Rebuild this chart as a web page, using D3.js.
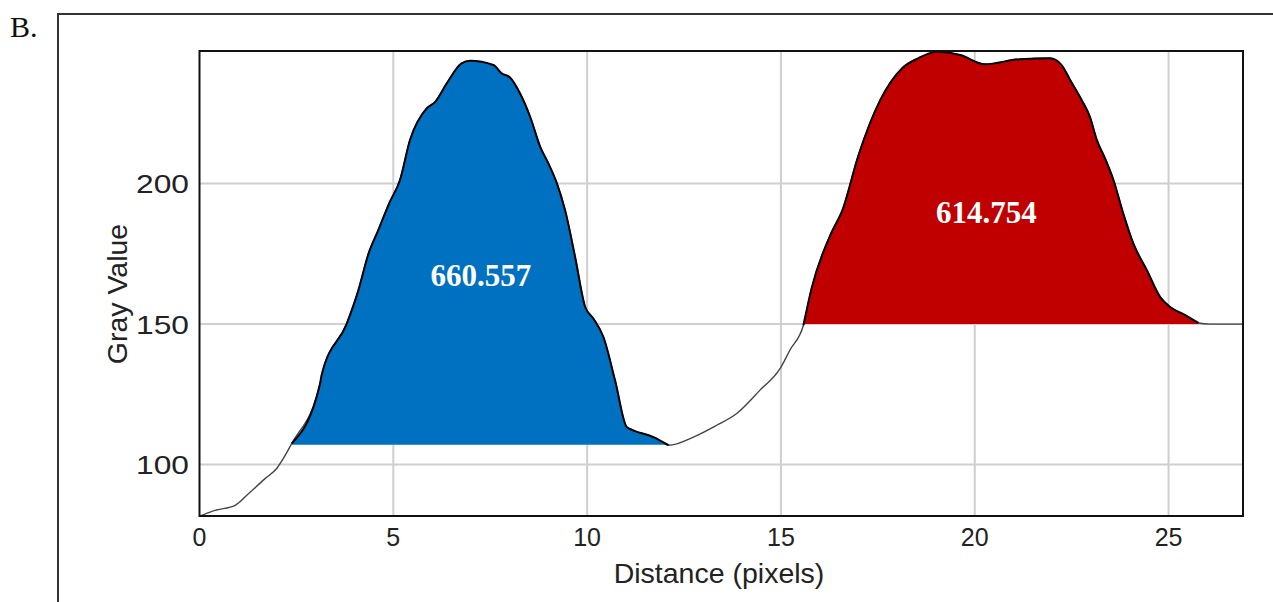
<!DOCTYPE html>
<html>
<head>
<meta charset="utf-8">
<script src="https://cdn.jsdelivr.net/npm/d3@7"></script>
<style>
  body { margin: 0; background: #fff; }
  svg { display: block; }
</style>
</head>
<body>
<svg width="1273" height="602"></svg>
<script>
// line profile values
const distance = [0, 0.40, 0.92, 1.22, 1.69, 1.99, 2.16, 2.38, 3.11, 3.15, 3.80, 4.10, 4.36, 4.61,
  4.91, 5.17, 5.43, 5.86, 6.08, 6.38, 6.76, 6.98, 7.58, 7.80, 8.01, 8.27, 8.53, 8.79, 9.00,
  9.22, 9.43, 9.69, 9.95, 10.16, 10.42, 10.72, 11.02, 11.19, 11.71, 12.10, 12.74, 13.34,
  13.86, 14.46, 14.98, 15.23, 15.58, 15.79, 16.31, 16.57, 17.00, 17.56, 18.12, 18.54, 19.02,
  19.62, 20.26, 21.17, 21.94, 22.24, 22.46, 22.76, 22.97, 23.15, 23.36, 23.58, 23.83, 24.09,
  24.44, 24.78, 25.04, 25.43, 25.77, 26.07, 26.92];
const grayValue = [81.6, 83.7, 85.5, 89.1, 95.0, 98.6, 102.1, 107.5, 128.8, 131.8, 150.2, 162.1,
  175.1, 183.4, 193.5, 201.2, 215.5, 226.8, 229.1, 235.7, 242.8, 243.7, 242.2, 239.2, 237.8,
  232.1, 223.8, 213.1, 207.2, 200.1, 190.6, 173.9, 156.1, 152.0, 145.4, 130.0, 113.4, 112.2,
  109.8, 106.9, 109.8, 114.0, 118.2, 126.5, 134.2, 140.7, 149.6, 162.7, 182.8, 190.0, 210.1,
  229.7, 241.0, 244.6, 246.9, 245.8, 242.5, 244.3, 244.6, 242.2, 236.9, 229.7, 223.8, 215.5,
  209.0, 201.2, 189.4, 178.7, 169.2, 159.7, 156.1, 153.2, 150.4, 150.0, 150.0];

// measured peaks
const peakStart = [2.38, 15.58];
const peakEnd = [12.10, 25.77];
const peakBase = [107.1, 150];
const peakArea = ["660.557", "614.754"];

const xTicks = [0, 5, 10, 15, 20, 25];
const yTicks = [100, 150, 200];

const svg = d3.select("svg");
const plotL = 199.5, plotR = 1243, plotT = 51, plotB = 516;

const x = d3.scaleLinear().domain([0, 26.92]).range([plotL, plotR]);
const y = d3.scaleLinear().domain([81.7, 247.2]).range([plotB, plotT]);

const peakFill = ["#0070c0", "#c00000"];
const labelPos = [[7.26, 163.5], [20.3, 186]];

const points = distance.map((d, i) => ({x: d, y: grayValue[i]}));

// outer panel frame
svg.append("rect")
    .attr("x", 58).attr("y", 14)
    .attr("width", 1300).attr("height", 700)
    .attr("fill", "none").attr("stroke", "#333").attr("stroke-width", 2);

svg.append("text")
    .attr("x", 10).attr("y", 37)
    .attr("font-family", "Liberation Serif, serif")
    .attr("font-size", 30)
    .attr("fill", "#111")
    .text("B.");

svg.append("defs").append("clipPath").attr("id", "plot-clip")
  .append("rect")
    .attr("x", plotL).attr("y", plotT)
    .attr("width", plotR - plotL).attr("height", plotB - plotT);

// grid
const grid = svg.append("g").attr("id", "grid");
grid.selectAll("line.vx")
    .data(xTicks.filter(d => d > 0)).enter()
    .append("line")
        .attr("x1", d => x(d)).attr("x2", d => x(d))
        .attr("y1", plotT).attr("y2", plotB)
        .attr("stroke", "#cfcfcf").attr("stroke-width", 2);
grid.selectAll("line.hy")
    .data(yTicks).enter()
    .append("line")
        .attr("x1", plotL).attr("x2", plotR)
        .attr("y1", d => y(d)).attr("y2", d => y(d))
        .attr("stroke", "#cfcfcf").attr("stroke-width", 2);

const plot = svg.append("g").attr("clip-path", "url(#plot-clip)");

// whole profile as a thin line
const line = d3.line().x(d => x(d.x)).y(d => y(d.y)).curve(d3.curveMonotoneX);
plot.append("path")
    .datum(points)
    .attr("fill", "none")
    .attr("stroke", "#444")
    .attr("stroke-width", 1.4)
    .attr("d", line);

// filled peaks
peakStart.forEach((s, i) => {
    const seg = points.filter(p => p.x >= s && p.x <= peakEnd[i]);
    const area = d3.area()
        .x(d => x(d.x)).y0(y(peakBase[i])).y1(d => y(d.y))
        .curve(d3.curveMonotoneX);
    plot.append("path")
        .datum(seg)
        .attr("fill", peakFill[i])
        .attr("d", area);
    plot.append("path")
        .datum(seg)
        .attr("fill", "none")
        .attr("stroke", "#000")
        .attr("stroke-width", 2)
        .attr("d", line);
    svg.append("text")
        .attr("x", x(labelPos[i][0]))
        .attr("y", y(labelPos[i][1]))
        .attr("text-anchor", "middle")
        .attr("font-family", "Liberation Serif, serif")
        .attr("font-weight", "bold")
        .attr("font-size", 31)
        .attr("fill", "#fff")
        .text(peakArea[i]);
});

// plot frame
svg.append("rect")
    .attr("x", plotL).attr("y", plotT)
    .attr("width", plotR - plotL).attr("height", plotB - plotT)
    .attr("fill", "none").attr("stroke", "#111").attr("stroke-width", 2);

// tick labels
svg.append("g").selectAll("text")
    .data(xTicks).enter()
    .append("text")
        .attr("x", d => x(d)).attr("y", 546)
        .attr("text-anchor", "middle")
        .attr("font-family", "Liberation Sans, Arial, sans-serif")
        .attr("font-size", 25)
        .attr("fill", "#222")
        .text(d => d);
svg.append("g").selectAll("text")
    .data(yTicks).enter()
    .append("text")
        .attr("transform", d => `translate(189,${y(d) + 9.5}) scale(1.22,1)`)
        .attr("text-anchor", "end")
        .attr("font-family", "Liberation Sans, Arial, sans-serif")
        .attr("font-size", 26)
        .attr("fill", "#222")
        .text(d => d);

svg.append("text")
    .attr("x", 719).attr("y", 583)
    .attr("text-anchor", "middle")
    .attr("font-family", "Liberation Sans, Arial, sans-serif")
    .attr("font-size", 28.5)
    .attr("fill", "#222")
    .text("Distance (pixels)");

svg.append("text")
    .attr("transform", "translate(127,294) rotate(-90)")
    .attr("text-anchor", "middle")
    .attr("font-family", "Liberation Sans, Arial, sans-serif")
    .attr("font-size", 28.5)
    .attr("fill", "#222")
    .text("Gray Value");
</script>
</body>
</html>
